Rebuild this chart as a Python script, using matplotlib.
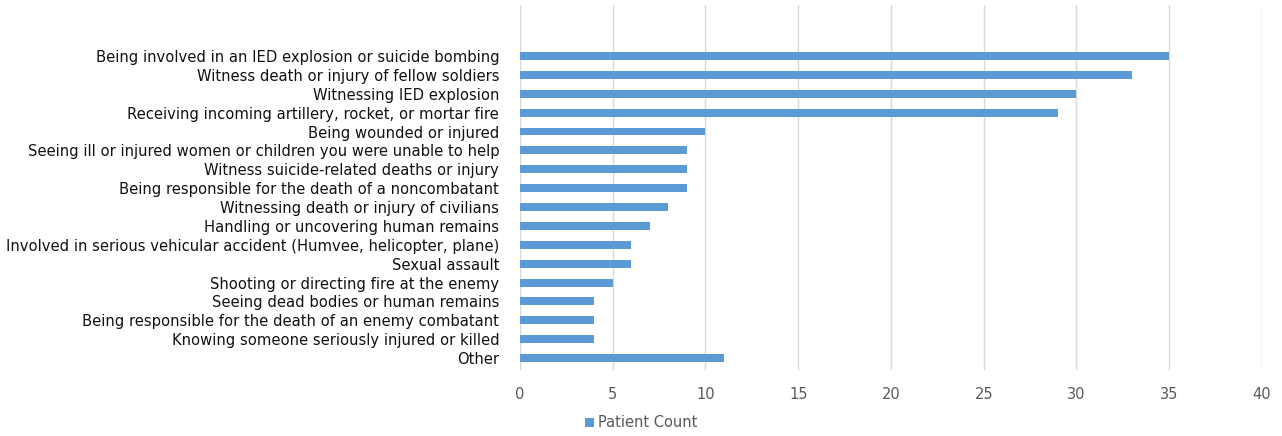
import matplotlib
matplotlib.use("Agg")
import matplotlib.pyplot as plt

categories = [
    "Being involved in an IED explosion or suicide bombing",
    "Witness death or injury of fellow soldiers",
    "Witnessing IED explosion",
    "Receiving incoming artillery, rocket, or mortar fire",
    "Being wounded or injured",
    "Seeing ill or injured women or children you were unable to help",
    "Witness suicide-related deaths or injury",
    "Being responsible for the death of a noncombatant",
    "Witnessing death or injury of civilians",
    "Handling or uncovering human remains",
    "Involved in serious vehicular accident (Humvee, helicopter, plane)",
    "Sexual assault",
    "Shooting or directing fire at the enemy",
    "Seeing dead bodies or human remains",
    "Being responsible for the death of an enemy combatant",
    "Knowing someone seriously injured or killed",
    "Other",
]
patient_count = [35, 33, 30, 29, 10, 9, 9, 9, 8, 7, 6, 6, 5, 4, 4, 4, 11]
xticks = [0, 5, 10, 15, 20, 25, 30, 35, 40]

bar_color = "#5B9BD5"

fig = plt.figure(figsize=(12.82, 4.36), dpi=100)
ax = fig.add_axes([0.4056, 0.151, 0.5788, 0.8375])

ypos = list(range(len(categories)))
ax.barh(ypos, patient_count, height=0.42, color=bar_color, label="Patient Count", zorder=3)

ax.set_xlim(0, 40)
ax.set_ylim(16.64, -2.7)
ax.set_xticks(xticks)
ax.set_yticks(ypos)
ax.set_yticklabels(categories, fontsize=10.6, color="#111111")
ax.tick_params(axis="x", labelsize=10.5, labelcolor="#595959", length=0, pad=12)
ax.tick_params(axis="y", length=0, pad=15)
ax.grid(axis="x", color="#d9d9d9", linewidth=1, zorder=0)
for s in ax.spines.values():
    s.set_visible(False)

fig.legend(loc="center", bbox_to_anchor=(0.5, 0.03), bbox_transform=fig.transFigure,
           frameon=False, fontsize=10.5, labelcolor="#595959",
           handlelength=0.6, handleheight=0.6, handletextpad=0.3)

fig.savefig("out.png", dpi=100, facecolor="white")
